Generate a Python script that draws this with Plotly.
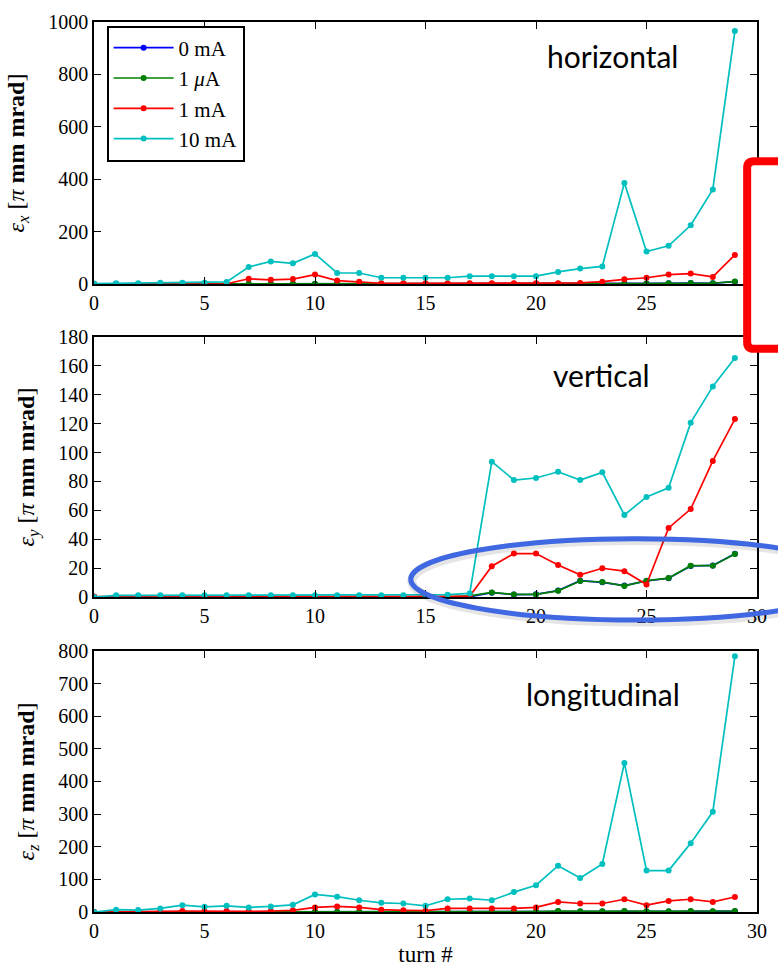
import plotly.graph_objects as go

# ---- data: emittance growth per turn for four beam currents ----
turns = list(range(30))

series_names = ["0 mA", "1 <i>μ</i>A", "1 mA", "10 mA"]
series_colors = ["#0000ff", "#008000", "#ff0000", "#00bfbf"]

# horizontal emittance  [pi mm mrad]
hor_0mA = [0, 0, 0, 0, 0, 0, 0, 0.5, 0.5, 0.5, 0.5, 0.5, 0.5, 0.5, 0.5,
           0.5, 0.5, 0.5, 0.5, 0.5, 0.5, 0.5, 0.5, 0.5, 1.5, 1.5, 2.5, 3.5, 3, 9]
hor_1uA = [0, 0, 0, 0, 0, 0, 0, 1, 1, 1, 1, 1, 1, 1, 1,
           1, 1, 1, 1, 1, 1, 1, 1, 1, 2, 2, 3, 4, 3, 10]
hor_1mA = [0, 0, 0, 1, 1, 1, 1, 20, 16, 19, 36, 13, 9, 3, 3,
           3, 3, 3, 3, 3, 3, 3, 4, 9, 18, 24, 36, 40, 27, 111]
hor_10mA = [2, 3, 3, 5, 5, 5, 8, 65, 86, 79, 115, 42, 42, 24, 24,
            24, 24, 30, 30, 30, 30, 46, 59, 67, 386, 124, 146, 224, 361, 966]

# vertical emittance  [pi mm mrad]
ver_0mA = [0.2] * 18 + [3.0, 1.7, 1.9, 4.5, 11.3, 10.2, 7.9, 11.1, 13.0, 21.5, 21.9, 29.9]
ver_1uA = [0.2] * 17 + [0.8, 3.2, 1.8, 1.8, 4.3, 11.1, 10.4, 7.7, 11.3, 13.1, 21.7, 21.7, 29.7]
ver_1mA = [0.3] * 17 + [0.5, 21.3, 30.1, 30.1, 22.2, 15.4, 19.9, 17.9, 8.6, 47.8, 60.9, 94.2, 123.2]
ver_10mA = [0, 1.2, 1.2, 1.2, 1.2, 1.2, 1.2, 1.2, 1.2, 1.2, 1.2, 1.2, 1.2, 1.2, 1.3,
            1.4, 1.6, 2.5, 93.7, 81.0, 82.4, 86.7, 81.0, 86.3, 56.8, 69.3, 75.6, 120.7, 145.8, 165.5]

# longitudinal emittance  [pi mm mrad]
lon_0mA = [0] * 20 + [0.5, 2, 1.5, 1.5, 2, 1.5, 1.5, 2, 1.5, 2]
lon_1uA = [0] * 20 + [1, 3, 2, 2, 3, 2, 2, 3, 2, 3]
lon_1mA = [0, 0, 0, 2, 3, 2, 3, 2, 3, 5, 14, 17, 14, 7, 5,
           4, 11, 11, 11, 11, 14, 31, 26, 26, 39, 21, 34, 39, 31, 46]
lon_10mA = [0, 7, 6, 11, 21, 16, 19, 14, 17, 22, 54, 47, 36, 28, 26,
            19, 39, 41, 36, 61, 82, 142, 104, 147, 457, 127, 127, 211, 307, 784]

panels = [
    ([hor_0mA, hor_1uA, hor_1mA, hor_10mA], "horizontal", "x"),
    ([ver_0mA, ver_1uA, ver_1mA, ver_10mA], "vertical", "y"),
    ([lon_0mA, lon_1uA, lon_1mA, lon_10mA], "longitudinal", "z"),
]
y_ranges = [[0, 1000], [0, 180], [0, 800]]
y_dticks = [200, 20, 100]

SERIF = "Liberation Serif"

fig = go.Figure()

for p, (data, _, _) in enumerate(panels):
    xa = "x" if p == 0 else f"x{p + 1}"
    ya = "y" if p == 0 else f"y{p + 1}"
    for s, vals in enumerate(data):
        fig.add_trace(go.Scatter(
            x=turns, y=vals, mode="lines+markers",
            name=series_names[s],
            line=dict(color=series_colors[s], width=1.7),
            marker=dict(color=series_colors[s], size=6),
            showlegend=(p == 0),
            xaxis=xa, yaxis=ya,
        ))

# panel geometry (paper fractions)
domains = [[0.7056, 1.0], [0.3539, 0.6461], [0.0, 0.2933]]

axis_common = dict(
    showline=True, linecolor="black", linewidth=1.5, mirror="ticks",
    ticks="inside", ticklen=7, tickwidth=1.2, tickcolor="black",
    showgrid=False, zeroline=False,
    tickfont=dict(family=SERIF, size=20, color="black"),
)

layout = dict(
    width=778, height=974,
    margin=dict(l=94, r=11, t=16, b=51),
    paper_bgcolor="white", plot_bgcolor="white",
    showlegend=True,
    legend=dict(
        x=0.019, y=0.996, xanchor="left", yanchor="top",
        bgcolor="white", bordercolor="black", borderwidth=2,
        font=dict(family=SERIF, size=21, color="black"),
        itemwidth=60, tracegroupgap=0,
    ),
)

for p, (_, label, sub) in enumerate(panels):
    xkey = "xaxis" if p == 0 else f"xaxis{p + 1}"
    ykey = "yaxis" if p == 0 else f"yaxis{p + 1}"
    xa_anchor = "y" if p == 0 else f"y{p + 1}"
    ya_anchor = "x" if p == 0 else f"x{p + 1}"
    layout[xkey] = dict(
        axis_common, domain=[0, 1], anchor=xa_anchor,
        range=[0, 30], tickmode="linear", tick0=0, dtick=5,
    )
    layout[ykey] = dict(
        axis_common, domain=domains[p], anchor=ya_anchor,
        range=y_ranges[p], tickmode="linear", tick0=0, dtick=y_dticks[p],
        title=dict(
            text=f"<i>ε<sub>{sub}</sub></i> [<i>π</i> <b>mm mrad</b>]",
            font=dict(family=SERIF, size=24, color="black"),
            standoff=17,
        ),
    )

layout["xaxis3"]["title"] = dict(
    text="turn #", font=dict(family=SERIF, size=23, color="black"), standoff=5,
)

fig.update_layout(**layout)

# panel labels
label_pos = [(0.7816, 0.9614), (0.765, 0.603), (0.768, 0.2445)]
for (_, label, _), (lx, ly) in zip(panels, label_pos):
    fig.add_annotation(
        x=lx, y=ly, xref="paper", yref="paper", text=label, showarrow=False,
        xanchor="center", yanchor="middle",
        font=dict(family="Lato", size=30, color="black"),
    )


def px_x(v):
    return (v - 94) / 673.0


def px_y(v):
    return (923 - v) / 907.0


# highlight: rounded red frame on the right edge
x0, x1, y0, y1, r = 757, 830, 158, 349, 7
path = (
    f"M {px_x(x0 + r)},{px_y(y0)} L {px_x(x1)},{px_y(y0)} "
    f"L {px_x(x1)},{px_y(y1)} L {px_x(x0 + r)},{px_y(y1)} "
    f"Q {px_x(x0)},{px_y(y1)} {px_x(x0)},{px_y(y1 - r)} "
    f"L {px_x(x0)},{px_y(y0 + r)} "
    f"Q {px_x(x0)},{px_y(y0)} {px_x(x0 + r)},{px_y(y0)} Z"
)
fig.add_shape(type="path", path=path, xref="paper", yref="paper",
              fillcolor="white", line=dict(color="#ff0000", width=8),
              layer="above")

# highlight: blue ellipse around the low-current vertical growth (with soft shadow)
fig.add_shape(type="circle", xref="paper", yref="paper",
              x0=px_x(416.5), x1=px_x(872), y0=px_y(627.5), y1=px_y(544.5),
              line=dict(color="rgba(0,0,0,0.10)", width=9), layer="above")
fig.add_shape(type="circle", xref="paper", yref="paper",
              x0=px_x(415.5), x1=px_x(871), y0=px_y(625.5), y1=px_y(542.5),
              line=dict(color="#3f68e2", width=5), layer="above")

fig.write_html("out.html")
